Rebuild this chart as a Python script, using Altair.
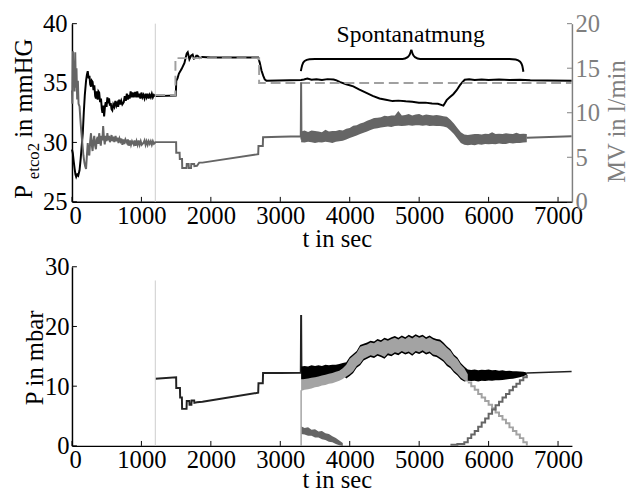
import altair as alt
import pandas as pd

FONT = "Liberation Serif, Times New Roman, DejaVu Serif, serif"
BLACK = "#000000"
PRE = "#222222"
DARK = "#656565"
LIGHT = "#a3a3a3"
DASH = "#a0a0a0"
VLINE = "#cccccc"
AXGRAY = "#7f7f7f"

W, H1, H2 = 508, 181, 182
XDOM = [0, 7200]
X_TICKS = [0, 1000, 2000, 3000, 4000, 5000, 6000, 7000]
ETCO2_TICKS = [25, 30, 35, 40]
MV_TICKS = [0, 5, 10, 15, 20]
P_TICKS = [0, 10, 20, 30]

# ---------------- top panel: end-tidal CO2 (mmHg) ----------------
etco2 = [
    (0, 29.4), (12, 29.1), (25, 28.4), (38, 27.8), (50, 27.3), (61, 27.1), (75, 27.3), (90, 27.2),
    (109, 27.65), (125, 28.6), (140, 29.7), (156, 30.8), (170, 32.5), (185, 34.0), (203, 35.2),
    (215, 35.7), (227, 36.0), (240, 35.4), (252, 35.6), (262, 34.9), (274, 34.7), (285, 35.2),
    (297, 35.1), (310, 34.4), (322, 34.8), (334, 33.9), (345, 33.7), (357, 34.3), (370, 33.6),
    (381, 34.3), (392, 34.2), (405, 33.4), (418, 33.7), (430, 32.8), (439, 32.5), (451, 33.1),
    (463, 32.2), (475, 33.0), (486, 33.4), (498, 33.0), (510, 33.8), (522, 33.3), (534, 33.7),
    (546, 33.1), (558, 33.3), (570, 32.8), (581, 32.7), (595, 33.2), (610, 33.0), (625, 33.5),
    (640, 33.1), (652, 33.3), (665, 33.0), (680, 33.6), (695, 33.2), (710, 33.5), (725, 33.2),
    (746, 33.4), (760, 33.9), (775, 33.5), (790, 34.1), (805, 33.6), (817, 34.0), (830, 33.7),
    (845, 34.3), (860, 33.8), (875, 34.2), (890, 33.8), (911, 34.25), (925, 33.8), (940, 34.3),
    (955, 33.8), (970, 34.1), (985, 33.7), (1000, 34.2), (1015, 33.8), (1029, 34.0), (1045, 33.7),
    (1060, 34.1), (1075, 33.8), (1090, 34.1), (1105, 33.7), (1120, 34.0), (1135, 33.8), (1150, 34.1),
    (1165, 33.8), (1180, 34.0), (1200, 33.9), (1495, 33.95), (1502, 35.2), (1520, 35.4), (1540, 35.8),
    (1580, 36.2), (1620, 36.7), (1640, 37.2), (1653, 37.5), (1667, 37.6), (1680, 37.3), (1691, 37.0),
    (1715, 37.3), (1738, 37.4), (1757, 37.05), (1775, 37.1), (1790, 37.3), (1808, 37.3), (1840, 37.1),
    (1879, 37.2), (2000, 37.15), (2682, 37.15), (2705, 36.7), (2729, 36.05), (2755, 35.6), (2776, 35.3),
    (2800, 35.2), (3300, 35.25), (3340, 35.3), (3390, 35.38), (3450, 35.28), (3520, 35.32), (3600, 35.26),
    (3680, 35.33), (3768, 35.3), (3810, 35.22), (3862, 35.08), (3950, 34.9), (4051, 34.72), (4140, 34.45),
    (4240, 34.17), (4330, 33.92), (4429, 33.7), (4520, 33.6), (4618, 33.48), (4700, 33.52), (4807, 33.46),
    (4900, 33.42), (4996, 33.34), (5090, 33.35), (5185, 33.28), (5270, 33.25), (5349, 33.1), (5370, 33.3),
    (5396, 33.56), (5440, 33.8), (5491, 34.06), (5540, 34.4), (5585, 34.8), (5620, 35.05), (5656, 35.28),
    (5720, 35.32), (5800, 35.25), (5900, 35.3), (6000, 35.26), (6150, 35.3), (6300, 35.25), (6450, 35.28),
    (6600, 35.24), (6850, 35.22), (7195, 35.2),
]
setpoint = [(1200, 34.0), (1490, 34.0), (1490, 37.1), (2695, 37.1), (2695, 35.0), (7195, 35.0)]

# minute ventilation (l/min), right axis
mv = [
    (0, 12.5), (5, 11.0), (14, 16.9), (22, 13.0), (30, 15.5), (38, 12.4), (47, 16.8), (56, 12.8),
    (65, 15.0), (75, 11.5), (85, 13.6), (95, 11.0), (109, 10.7), (120, 9.4), (132, 8.1), (150, 6.5),
    (165, 5.2), (179, 4.4), (190, 4.0), (203, 3.7), (215, 5.2), (227, 6.6), (238, 5.6), (250, 5.2),
    (262, 6.8), (274, 7.7), (285, 6.4), (297, 5.7), (309, 6.9), (321, 7.4), (333, 6.3), (345, 5.9),
    (357, 7.0), (370, 7.3), (381, 6.5), (392, 7.7), (404, 6.9), (415, 6.3), (427, 7.4), (438, 6.9),
    (449, 8.5), (460, 7.2), (472, 6.45), (484, 7.4), (497, 6.8), (510, 7.7), (522, 6.9), (534, 7.4),
    (546, 6.7), (557, 7.0), (570, 7.5), (582, 6.8), (595, 7.3), (610, 6.7), (628, 7.4), (642, 6.8),
    (656, 7.2), (670, 6.6), (685, 7.1), (699, 6.8), (712, 7.1), (726, 6.4), (740, 7.0), (755, 6.5),
    (770, 7.0), (793, 6.6), (805, 7.0), (820, 6.3), (835, 6.9), (850, 6.4), (865, 6.8), (888, 6.45),
    (900, 6.9), (915, 6.3), (930, 6.8), (945, 6.4), (960, 6.9), (975, 6.4), (990, 6.8), (1005, 6.4),
    (1029, 6.6), (1045, 6.9), (1060, 6.4), (1075, 6.8), (1090, 6.4), (1105, 6.8), (1120, 6.5),
    (1135, 6.8), (1150, 6.4), (1165, 6.8), (1180, 6.5), (1194, 6.6), (1200, 6.7), (1500, 6.7),
    (1502, 5.5), (1550, 5.5), (1553, 4.8), (1585, 4.8), (1588, 3.8), (1650, 3.8), (1653, 4.25),
    (1680, 4.25), (1683, 3.8), (1715, 3.8), (1718, 4.25), (1760, 4.25), (1763, 4.0), (1800, 4.05),
    (1832, 4.4), (1879, 4.4), (2682, 5.34), (2686, 6.26), (2748, 6.26), (2752, 7.26), (3000, 7.3),
    (3295, 7.35), (3300, 13.4), (3305, 7.0),
]
mv_tail = [(6550, 7.2), (7195, 7.35)]
mv_band_t = list(range(3300, 6551, 50))
mv_band_hi = [7.9, 8.0, 7.85, 8.0, 7.95, 7.9, 7.8, 8.1, 7.9, 7.95, 7.95, 8.05, 8.0,
              8.2, 8.3, 8.55, 8.6, 8.8, 8.9, 9.1, 9.25,
              9.4, 9.45, 9.5, 9.65, 9.6, 9.7, 9.7, 10.2, 9.7, 9.75, 9.85, 9.7, 9.8, 9.85,
              9.7, 9.8, 9.75, 9.7, 9.75, 9.7, 9.6, 9.55,
              9.2, 8.8, 8.3, 7.8, 7.55, 7.5,
              7.55, 7.6, 7.6, 7.55, 7.65, 7.6, 7.8, 7.6, 7.65, 7.6, 7.7, 7.65, 7.6, 7.75,
              7.6, 7.65, 7.6]
mv_band_lo = [6.7, 6.65, 6.75, 6.7, 6.6, 6.7, 6.65, 6.75, 6.7, 6.6, 6.75, 6.8, 6.85,
              7.0, 7.15, 7.3, 7.45, 7.6, 7.75, 7.9, 8.05,
              8.2, 8.25, 8.35, 8.4, 8.45, 8.4, 8.5, 8.55, 8.5, 8.55, 8.6, 8.55, 8.6, 8.6,
              8.55, 8.6, 8.5, 8.55, 8.5, 8.5, 8.45, 8.35,
              8.0, 7.6, 7.1, 6.6, 6.4, 6.35,
              6.4, 6.35, 6.45, 6.4, 6.5, 6.45, 6.5, 6.45, 6.55, 6.5, 6.5, 6.6, 6.55, 6.6,
              6.6, 6.65, 6.7]

# annotation brace (in data coordinates of the left axis)
brace_left = [(3296, 36.0), (3315, 36.5), (3350, 36.85), (3420, 37.0), (3500, 37.03),
              (4760, 37.03), (4835, 37.18), (4868, 37.45), (4887, 37.8)]
brace_right = [(4887, 37.8), (4906, 37.45), (4939, 37.18), (5014, 37.03), (6300, 37.03),
               (6390, 36.98), (6455, 36.8), (6485, 36.45), (6501, 35.95)]
note = [(4877, 38.48, "Spontanatmung")]

# ---------------- bottom panel: pressures (mbar) ----------------
p_total = [
    (1200, 11.25), (1500, 11.5), (1502, 9.7), (1555, 9.7), (1558, 8.1), (1583, 8.1), (1586, 6.2),
    (1650, 6.2), (1653, 7.5), (1690, 7.5), (1693, 6.9), (1720, 6.9), (1723, 7.6), (1760, 7.6),
    (1763, 7.2), (1800, 7.3), (1879, 7.4), (2682, 8.9), (2686, 10.5), (2748, 10.5), (2752, 12.2),
    (3000, 12.2), (3295, 12.25), (3300, 21.9), (3305, 12.5),
]
p_total_tail = [(6550, 12.2), (7195, 12.45)]
p_total_band_t = list(range(3300, 6551, 50))
p_total_hi = [13.3, 13.4, 13.3, 13.5, 13.4, 13.5, 13.4, 13.6, 13.5, 13.6, 13.6, 13.7, 13.9,
              14.0, 14.9, 15.4, 15.9, 16.9, 17.1, 17.3,
              17.6, 17.5, 17.9, 17.7, 18.1, 17.9, 18.2, 18.4, 18.1, 18.5,
              18.2, 18.6, 18.3, 18.7, 18.4, 18.6, 18.2, 18.5, 18.1, 17.9,
              17.8, 17.3, 16.7, 16.2, 15.3, 14.8, 13.9, 13.3,
              12.8, 12.7, 12.8, 12.65, 12.75, 12.7, 12.8, 12.65, 12.7, 12.6,
              12.65, 12.55, 12.6, 12.5, 12.5, 12.45, 12.4, 12.3]
p_total_lo = [11.1, 11.0, 11.15, 11.1, 11.2, 11.2, 11.3, 11.35, 11.45, 11.5, 11.6, 11.7, 11.9,
              11.3, 11.7, 12.2, 13.1, 13.5, 14.3, 14.6,
              14.9, 14.7, 15.1, 14.9, 14.6, 15.2, 15.0, 15.4, 15.2, 15.6,
              15.3, 15.5, 15.1, 15.6, 15.4, 15.7, 15.3, 15.5, 15.0, 14.9,
              14.5, 14.1, 13.4, 13.0, 12.3, 11.8, 11.1, 10.8,
              10.9, 10.85, 10.9, 10.8, 10.9, 10.85, 10.95, 10.9, 11.0, 11.0,
              11.05, 11.1, 11.2, 11.25, 11.35, 11.5, 11.65, 11.9]
p_supp_band_t = list(range(3300, 5701, 50))
p_supp_hi = [11.1, 11.2, 11.3, 11.4, 11.5, 11.6, 11.8, 11.9, 12.1, 12.2,
             12.4, 12.6, 13.0, 13.6, 14.6, 15.1, 15.6, 16.6, 16.8, 17.0,
             17.3, 17.2, 17.6, 17.4, 17.8, 17.6, 17.9, 18.1, 17.8, 18.2,
             17.9, 18.3, 18.0, 18.4, 18.1, 18.3, 17.9, 18.2, 17.8, 17.6,
             17.5, 17.0, 16.4, 15.9, 15.0, 14.5, 13.6, 13.0, 12.0]
p_supp_lo = [9.2, 9.4, 9.5, 9.6, 9.8, 9.9, 10.1, 10.2, 10.4, 10.5,
             10.7, 10.9, 11.2, 11.6, 12.0, 12.5, 13.4, 13.8, 14.6, 14.9,
             15.2, 15.0, 15.4, 15.2, 14.9, 15.5, 15.3, 15.7, 15.5, 15.9,
             15.6, 15.8, 15.4, 15.9, 15.7, 16.0, 15.6, 15.8, 15.3, 15.2,
             14.8, 14.4, 13.7, 13.3, 12.6, 12.1, 11.4, 11.0, 10.7]
p_supp_ramp_t = list(range(5700, 6551, 50))
p_supp_ramp = [10.6, 10.0, 9.4, 8.7, 8.1, 7.5, 6.9, 6.3, 5.6, 5.0, 4.4, 3.8, 3.1, 2.5, 1.9, 1.3, 0.6, 0.0]
p_ctrl_early_t = list(range(3300, 3901, 50))
p_ctrl_early_hi = [3.3, 3.0, 3.1, 2.7, 2.8, 2.4, 2.5, 2.1, 2.0, 1.6, 1.3, 0.9, 0.5]
p_ctrl_early_lo = [2.0, 1.9, 1.7, 1.7, 1.4, 1.4, 1.1, 1.0, 0.7, 0.6, 0.3, 0.1, 0.0]
p_ctrl_ramp_t = list(range(5450, 6551, 50))
p_ctrl_ramp = [0.2, 0.2, 0.3, 0.3, 0.6, 1.3, 1.9, 2.5, 3.2, 3.9, 4.6, 5.4, 6.1, 6.8, 7.4, 8.1,
               8.7, 9.3, 9.9, 10.4, 11.0, 11.5, 11.9]


def pairs_df(pairs):
    d = pd.DataFrame(pairs, columns=["t", "v"])
    d["i"] = range(len(d))
    return d


def series_df(ts, vs):
    return pairs_df(list(zip(ts, vs)))


def band_df(ts, hi, lo):
    return pd.DataFrame({"t": ts, "hi": hi, "lo": lo})


xs = alt.Scale(domain=XDOM, nice=False, zero=False)
ys_top = alt.Scale(domain=[25, 40], nice=False, zero=False)
ys_mv = alt.Scale(domain=[0, 20], nice=False, zero=False)
ys_p = alt.Scale(domain=[0, 30], nice=False, zero=False)


def x_axis(title_y):
    return alt.Axis(values=X_TICKS, title="t in sec", format="d", labelPadding=22,
                    labelBaseline="alphabetic", labelFlush=True, labelFlushOffset=3,
                    labelOverlap=False, titleX=269, titleY=title_y, titleBaseline="alphabetic",
                    titleAlign="center")


# identical axis objects are given to every layer that shares a scale
AX_X_TOP = x_axis(45)
AX_X_BOT = x_axis(42)
AX_ETCO2 = alt.Axis(values=ETCO2_TICKS, title=None, labelPadding=5, format="d")
AX_MV = alt.Axis(orient="right", values=MV_TICKS, title=None, labelPadding=3, format="d",
                 domainColor=AXGRAY, labelColor=AXGRAY)
AX_P = alt.Axis(values=P_TICKS, title=None, labelPadding=3, format="d")


def XT(field):
    return alt.X(f"{field}:Q", scale=xs, axis=AX_X_TOP)


def XB(field):
    return alt.X(f"{field}:Q", scale=xs, axis=AX_X_BOT)


def YE(field):
    return alt.Y(f"{field}:Q", scale=ys_top, axis=AX_ETCO2)


def YM(field):
    return alt.Y(f"{field}:Q", scale=ys_mv, axis=AX_MV)


def YP(field):
    return alt.Y(f"{field}:Q", scale=ys_p, axis=AX_P)


def label(txt):
    return pd.DataFrame({"s": [txt]})


# ---------------- top chart ----------------
top_left = alt.layer(
    alt.Chart(pairs_df(etco2)).mark_line(color=BLACK, strokeWidth=2).encode(
        x=XT("t"), y=YE("v"), order="i:Q"),
    alt.Chart(pd.DataFrame({"t": [1200]})).mark_rule(color=VLINE, strokeWidth=1).encode(x=XT("t")),
    alt.Chart(pairs_df(setpoint)).mark_line(color=DASH, strokeWidth=2, strokeDash=[10, 5]).encode(
        x=XT("t"), y=YE("v"), order="i:Q"),
    alt.Chart(pd.concat([pairs_df(brace_left).assign(part="l"),
                         pairs_df(brace_right).assign(part="r")])).mark_line(
        color=BLACK, strokeWidth=2, interpolate="monotone").encode(
        x=XT("t"), y=YE("v"), detail="part:N", order="i:Q"),
    alt.Chart(pd.DataFrame(note, columns=["t", "v", "s"])).mark_text(
        fontSize=24, align="center", baseline="alphabetic", color=BLACK).encode(
        x=XT("t"), y=YE("v"), text="s:N"),
    alt.Chart(pd.DataFrame({"v": ETCO2_TICKS})).mark_rule(color=BLACK, strokeWidth=1).encode(
        y=YE("v"), x=alt.value(0), x2=alt.value(5)),
    alt.Chart(pd.DataFrame({"t": X_TICKS})).mark_rule(color=BLACK, strokeWidth=1).encode(
        x=XT("t"), y=alt.value(H1), y2=alt.value(H1 - 5)),
    alt.Chart(label("P")).mark_text(fontSize=25, angle=270, align="left", baseline="alphabetic",
                                    color=BLACK).encode(x=alt.value(-41), y=alt.value(178), text="s:N"),
    alt.Chart(label("etco2")).mark_text(fontSize=17, angle=270, align="left", baseline="alphabetic",
                                        color=BLACK).encode(x=alt.value(-34), y=alt.value(158), text="s:N"),
    alt.Chart(label("in mmHG")).mark_text(fontSize=25, angle=270, align="left", baseline="alphabetic",
                                          color=BLACK).encode(x=alt.value(-41), y=alt.value(116), text="s:N"),
)

top_right = alt.layer(
    alt.Chart(pairs_df(mv)).mark_line(color=DARK, strokeWidth=2).encode(
        x=XT("t"), y=YM("v"), order="i:Q"),
    alt.Chart(band_df(mv_band_t, mv_band_hi, mv_band_lo)).mark_area(color=DARK, opacity=1).encode(
        x=XT("t"), y=YM("hi"), y2="lo:Q"),
    alt.Chart(pairs_df(mv_tail)).mark_line(color=DARK, strokeWidth=2).encode(
        x=XT("t"), y=YM("v"), order="i:Q"),
    alt.Chart(pd.DataFrame({"v": MV_TICKS})).mark_rule(color=AXGRAY, strokeWidth=1).encode(
        y=YM("v"), x=alt.value(W - 5), x2=alt.value(W)),
    alt.Chart(label("MV in l/min")).mark_text(fontSize=25, angle=270, align="center",
                                              baseline="alphabetic", color=AXGRAY).encode(
        x=alt.value(562), y=alt.value(99.5), text="s:N"),
)

top = alt.layer(top_left, top_right).resolve_scale(y="independent").properties(width=W, height=H1)

# ---------------- bottom chart ----------------
bottom = alt.layer(
    alt.Chart(pairs_df(p_total)).mark_line(color=PRE, strokeWidth=2).encode(
        x=XB("t"), y=YP("v"), order="i:Q"),
    alt.Chart(pd.DataFrame({"t": [1200], "a": [0.0], "b": [27.7]})).mark_rule(
        color=VLINE, strokeWidth=1).encode(x=XB("t"), y=YP("a"), y2="b:Q"),
    alt.Chart(series_df(p_supp_ramp_t, p_supp_ramp)).mark_line(
        color=LIGHT, strokeWidth=2, interpolate="step-after").encode(
        x=XB("t"), y=YP("v"), order="i:Q"),
    alt.Chart(series_df(p_ctrl_ramp_t, p_ctrl_ramp)).mark_line(
        color=DARK, strokeWidth=2, interpolate="step-after").encode(
        x=XB("t"), y=YP("v"), order="i:Q"),
    alt.Chart(band_df(p_total_band_t, p_total_hi, p_total_lo)).mark_area(color=BLACK, opacity=1).encode(
        x=XB("t"), y=YP("hi"), y2="lo:Q"),
    alt.Chart(band_df(p_supp_band_t, p_supp_hi, p_supp_lo)).mark_area(color=LIGHT, opacity=1).encode(
        x=XB("t"), y=YP("hi"), y2="lo:Q"),
    alt.Chart(band_df(p_ctrl_early_t, p_ctrl_early_hi, p_ctrl_early_lo)).mark_area(
        color=DARK, opacity=1).encode(x=XB("t"), y=YP("hi"), y2="lo:Q"),
    alt.Chart(pairs_df(p_total_tail)).mark_line(color=PRE, strokeWidth=1.5).encode(
        x=XB("t"), y=YP("v"), order="i:Q"),
    alt.Chart(pd.DataFrame({"t": [3300], "a": [0.0], "b": [9.3]})).mark_rule(
        color=LIGHT, strokeWidth=1.5).encode(x=XB("t"), y=YP("a"), y2="b:Q"),
    alt.Chart(pd.DataFrame({"v": P_TICKS})).mark_rule(color=BLACK, strokeWidth=1).encode(
        y=YP("v"), x=alt.value(0), x2=alt.value(5)),
    alt.Chart(pd.DataFrame({"t": X_TICKS})).mark_rule(color=BLACK, strokeWidth=1).encode(
        x=XB("t"), y=alt.value(H2), y2=alt.value(H2 - 5)),
    alt.Chart(label("P in mbar")).mark_text(fontSize=25, angle=270, align="center",
                                            baseline="alphabetic", color=BLACK).encode(
        x=alt.value(-29), y=alt.value(92.7), text="s:N"),
).properties(width=W, height=H2)

chart = alt.vconcat(top, bottom, spacing=4).properties(
    padding={"left": 3, "top": 0, "right": 0, "bottom": 0}
).configure_view(stroke=None).configure_axis(
    labelFont=FONT, labelFontSize=25, titleFont=FONT, titleFontSize=25, titleFontWeight="normal",
    labelColor=BLACK, titleColor=BLACK, domainColor=BLACK, domainWidth=1.5, grid=False,
    ticks=False, tickSize=0
).configure_text(font=FONT)

chart.save("out.html", embed_options={"renderer": "svg", "actions": False})
